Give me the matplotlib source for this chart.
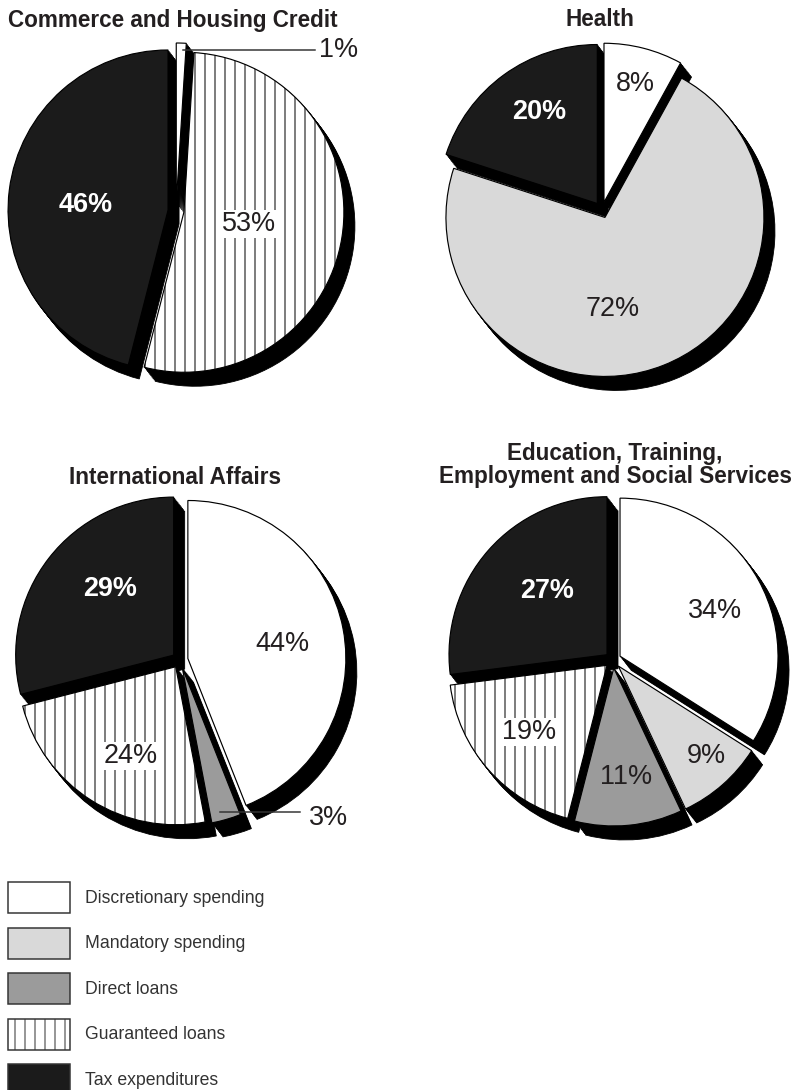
import matplotlib
matplotlib.use("Agg")
import matplotlib.pyplot as plt
from matplotlib.patches import Patch

plt.rcParams['font.family'] = ['Liberation Sans', 'DejaVu Sans']
plt.rcParams['hatch.linewidth'] = 0.6

# data (percent of each budget function)
categories = ['Discretionary spending', 'Mandatory spending', 'Direct loans', 'Guaranteed loans', 'Tax expenditures']
commerce = [1, 0, 0, 53, 46]
health = [8, 72, 0, 0, 20]
international = [44, 0, 3, 24, 29]
education = [34, 9, 11, 19, 27]
titles = ['Commerce and Housing Credit', 'Health', 'International Affairs',
          'Education, Training,\nEmployment and Social Services']

face_colors = ['white', '#d9d9d9', '#9b9b9b', 'white', '#1b1b1b']
hatches = ['', '', '', '||', '']

W, H = 797, 1090
DPI = 120

def px(p):
    # pixel size -> points at this dpi
    return p * 72.0 / DPI

fig = plt.figure(figsize=(W / DPI, H / DPI), dpi=DPI)
ax = fig.add_axes([0, 0, 1, 1])

EXPLODE = 8          # pixels (pie explode is in data units here)
SHADOW = (11, 14)

# layout: pie centre (screen px), radius, title position, label positions per slice
layout = [
    dict(center=(176, 211), r=160, title=(8, 20, 'left'),
         labels={0: (339, 50), 3: (249, 224), 4: (86, 205)}),
    dict(center=(602, 210), r=159, title=(600, 20, 'center'),
         labels={0: (635, 84), 1: (613, 309), 4: (539, 112)}),
    dict(center=(180, 660), r=158, title=(175, 477, 'center'),
         labels={0: (282, 644), 2: (329, 818), 3: (131, 756), 4: (110, 589)}),
    dict(center=(613, 660), r=158, title=(615, 465, 'center'),
         labels={0: (715, 611), 1: (706, 756), 2: (626, 777), 3: (529, 732), 4: (547, 591)}),
]
leaders = {0: (183, 315, 50), 2: (220, 300, 812)}

for i, values in enumerate([commerce, health, international, education]):
    lay = layout[i]
    idx = [k for k, v in enumerate(values) if v > 0]
    vals = [values[k] for k in idx]
    cx, cy = lay['center']
    R = lay['r']
    # black extrusion (3D side)
    steps = 10
    for s in range(1, steps + 1):
        dx = SHADOW[0] * s / steps
        dy = SHADOW[1] * s / steps
        ax.pie(vals, center=(cx + dx, H - (cy + dy)), radius=R, startangle=90,
               counterclock=False, explode=[EXPLODE] * len(vals), frame=True,
               colors=['black'] * len(vals),
               wedgeprops=dict(linewidth=0.5, edgecolor='black'))
    # faces
    ax.pie(vals, center=(cx, H - cy), radius=R, startangle=90, counterclock=False,
           explode=[EXPLODE] * len(vals), frame=True,
           colors=[face_colors[k] for k in idx], hatch=[hatches[k] for k in idx],
           wedgeprops=dict(linewidth=0.7, edgecolor='black'))

    # slice labels
    for k in idx:
        lx, ly = lay['labels'][k]
        txt = '%d%%' % values[k]
        if k == 4:
            ax.text(lx, H - ly, txt, color='white', fontsize=px(27), fontweight='bold',
                    ha='center', va='center')
        elif k == 3:
            ax.text(lx, H - ly, txt, color='#231f20', fontsize=px(27), ha='center', va='center',
                    bbox=dict(boxstyle='square,pad=0.05', facecolor='white', edgecolor='none'))
        else:
            ax.text(lx, H - ly, txt, color='#231f20', fontsize=px(27), ha='center', va='center')

    if i in leaders:
        x1, x2, y = leaders[i]
        ax.plot([x1, x2], [H - y, H - y], color='#333333', linewidth=0.9)

    tx, ty, ha = lay['title']
    ax.text(tx, H - ty, titles[i], fontsize=px(22.5), fontweight='bold', color='#231f20',
            ha=ha, va='center', linespacing=1.0)

# legend
handles = [Patch(facecolor=face_colors[k], edgecolor='#333333', hatch=hatches[k], linewidth=0.9)
           for k in range(len(categories))]
fpx = 17.7
hh = (31 / fpx - 0.245) / 0.65
ax.legend(handles, categories, loc='upper left', bbox_to_anchor=(8 / W, 1 - 882 / H),
          bbox_transform=fig.transFigure, frameon=False, fontsize=px(fpx),
          borderpad=0, borderaxespad=0, handlelength=62 / fpx, handleheight=hh,
          handletextpad=15 / fpx, labelspacing=14.5 / fpx, labelcolor='#333333')

ax.set_xlim(0, W)
ax.set_ylim(0, H)
ax.set_aspect('equal')
ax.axis('off')

fig.savefig('out.png', dpi=DPI)
